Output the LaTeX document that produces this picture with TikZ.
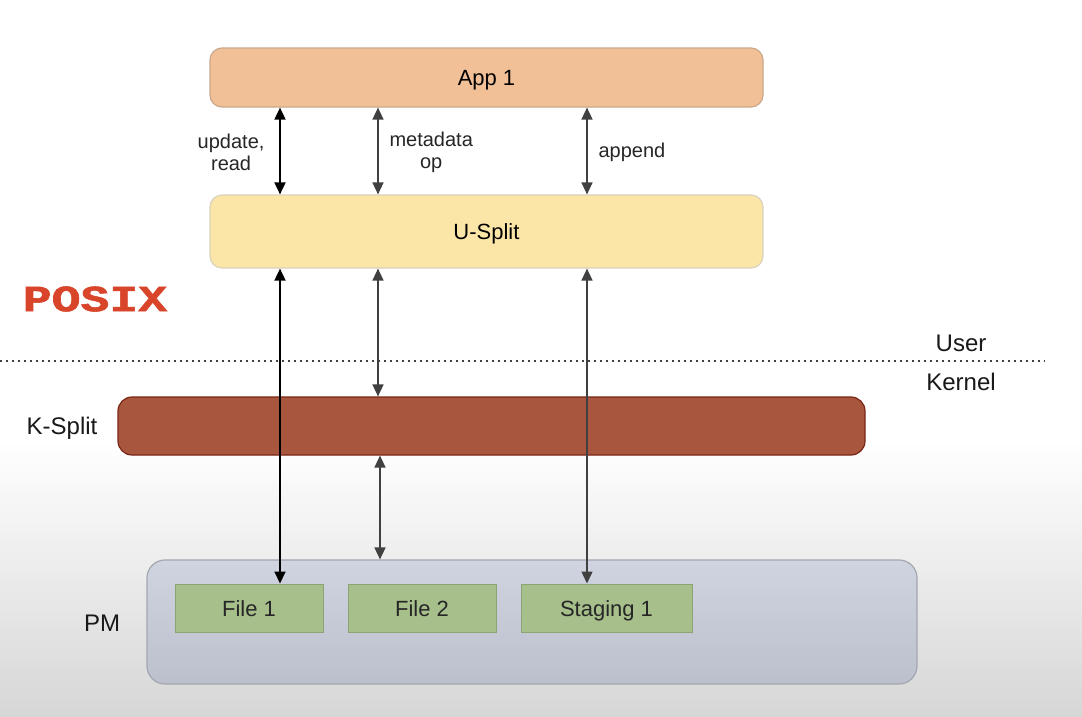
\documentclass[tikz,border=0pt]{standalone}
\usepackage{fontspec}
\setmainfont{Liberation Sans}
\newfontfamily\posixfont[FakeBold=1.4]{Liberation Mono}
\usetikzlibrary{arrows.meta}
\definecolor{appfill}{HTML}{F1C096}
\definecolor{appdraw}{HTML}{C9A88C}
\definecolor{ufill}{HTML}{FBE6A8}
\definecolor{udraw}{HTML}{D9D2BC}
\definecolor{kfill}{HTML}{A9563F}
\definecolor{kdraw}{HTML}{7A2616}
\definecolor{pmtop}{HTML}{CFD4E0}
\definecolor{pmbot}{HTML}{BCC0CC}
\definecolor{pmdraw}{HTML}{A3A7B0}
\definecolor{filefill}{HTML}{A7BF8B}
\definecolor{filedraw}{HTML}{8CA374}
\definecolor{posixred}{HTML}{D8452A}
\definecolor{arrgray}{HTML}{404040}
\tikzset{
  layerbox/.style={rounded corners=12pt, line width=1.2pt, minimum width=553pt, minimum height=59pt, inner sep=0pt, text height=16pt, text depth=0pt, font=\fontsize{22}{26}\selectfont},
  filebox/.style={line width=1pt, draw=filedraw, fill=filefill, minimum height=48pt, inner sep=0pt, text height=16pt, text depth=0pt, font=\fontsize{22}{26}\selectfont, text=black!85},
  sidelabel/.style={font=\fontsize{24}{28}\selectfont, text=black!90},
  arrlabel/.style={font=\fontsize{20}{22}\selectfont, align=center, text=black!85},
  tip/.tip={Triangle[length=12pt,width=11pt]},
  dbl/.style={line width=1.8pt, tip-tip},
  dblg/.style={line width=1.5pt, draw=arrgray, tip-tip}
}
\begin{document}
\begin{tikzpicture}[x=1pt,y=-1pt]
\useasboundingbox (0,0) rectangle (1082,716);
\fill[white] (0,0) rectangle (1082,716);
\shade[top color=white, bottom color=black!16] (0,440) rectangle (1082,716);

% nodes
\node[layerbox, draw=appdraw, fill=appfill] (app) at (486.5,77.5) {App 1};
\node[layerbox, draw=udraw, fill=ufill, minimum height=73pt] (usplit) at (486.5,231.5) {U-Split};
\node[layerbox, draw=kdraw, fill=kfill, minimum width=747pt, minimum height=58pt, rounded corners=14pt] (ksplit) at (491.5,426) {};
\node[draw=pmdraw, line width=1.2pt, top color=pmtop, bottom color=pmbot, rounded corners=18pt, minimum width=770pt, minimum height=124pt, inner sep=0pt] (pm) at (532,622) {};
\node[filebox, minimum width=148pt] (file1) at (249,608) {File 1};
\node[filebox, minimum width=148pt] (file2) at (422,608) {File 2};
\node[filebox, minimum width=171pt] (staging) at (606.5,608) {Staging 1};

% side labels
\node[font=\posixfont\bfseries\fontsize{37}{37}\selectfont, text=posixred] (posix) at (95,299) {\scalebox{1.3}[1]{POSIX}};
\node[sidelabel] (klabel) at (62,428) {K-Split};
\node[sidelabel] (pmlabel) at (102,623) {PM};
\node[sidelabel] (user) at (961,343) {User};
\node[sidelabel] (kernel) at (961,382) {Kernel};

% boundary
\coordinate (dl) at (0,361);
\coordinate (dr) at (1045,361);
\draw[line width=1.6pt, dash pattern=on 1.6pt off 4.4pt, black!75] (dl) -- (dr);

% columns
\coordinate (c1) at (280,0);
\coordinate (c2) at (378,0);
\coordinate (c2b) at (380,0);
\coordinate (c3) at (587,0);

\draw[dbl] (app.south -| c1) -- (usplit.north -| c1);
\draw[dblg] (app.south -| c2) -- (usplit.north -| c2);
\draw[dblg] (app.south -| c3) -- (usplit.north -| c3);

\draw[dbl] (usplit.south -| c1) -- (file1.north -| c1);
\draw[dblg] (usplit.south -| c2) -- (ksplit.north -| c2);
\draw[dblg] (ksplit.south -| c2b) -- (pm.north -| c2b);
\draw[dblg] (usplit.south -| c3) -- (staging.north -| c3);

% arrow labels
\node[arrlabel, anchor=east] (l1) at (268,152) {update,\\read};
\node[arrlabel, anchor=west] (l2) at (386,152) {metadata\\op};
\node[arrlabel, anchor=west] (l3) at (595,152) {append};
\end{tikzpicture}
\end{document}
